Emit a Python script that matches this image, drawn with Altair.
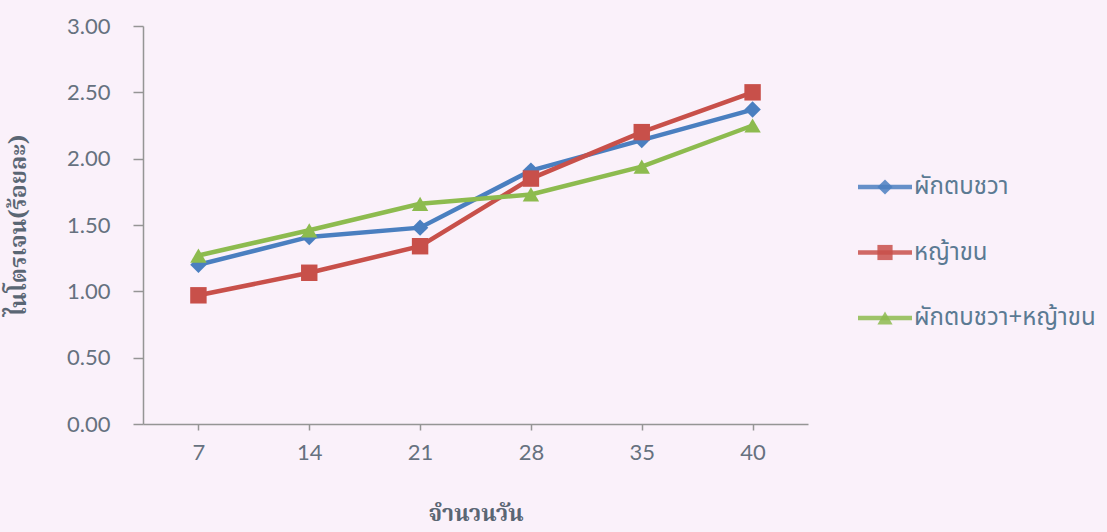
import altair as alt
import pandas as pd

# Sampling days (x categories)
days = ["7", "14", "21", "28", "35", "40"]

# Treatments
series = ["ผักตบชวา", "หญ้าขน", "ผักตบชวา+หญ้าขน"]

# Nitrogen (%) per treatment, one value per sampling day
water_hyacinth = [1.20, 1.41, 1.48, 1.91, 2.14, 2.37]
para_grass = [0.97, 1.14, 1.34, 1.85, 2.20, 2.50]
mixed = [1.27, 1.46, 1.66, 1.73, 1.94, 2.25]

y_ticks = [0.0, 0.5, 1.0, 1.5, 2.0, 2.5, 3.0]

colors = ["#4a7fc0", "#c8504a", "#8dbb4f"]
shapes = ["diamond", "square", "triangle-up"]

LABEL_FONT = "Lato, 'Noto Sans', sans-serif"
THAI_FONT = "'Noto Sans Thai', 'Noto Sans', sans-serif"
TITLE_FONT = "'Noto Serif Thai', 'Noto Sans Thai', 'Noto Sans', sans-serif"
TEXT = "#66717f"
AXIS = "#959595"

rows = []
for name, vals in zip(series, [water_hyacinth, para_grass, mixed]):
    for d, v in zip(days, vals):
        rows.append({"day": d, "series": name, "value": v})
df = pd.DataFrame(rows)

color_scale = alt.Scale(domain=series, range=colors)
shape_scale = alt.Scale(domain=series, range=shapes)

x_enc = alt.X(
    "day:N",
    sort=days,
    scale=alt.Scale(type="point", padding=0.5),
    axis=alt.Axis(
        title="จำนวนวัน",
        labelAngle=0,
        tickSize=6,
        labelPadding=12,
        titlePadding=39,
        titleFontWeight="bold",
    ),
)
y_enc = alt.Y(
    "value:Q",
    scale=alt.Scale(domain=[0, 3], nice=False),
    axis=alt.Axis(
        title="ไนโตรเจน(ร้อยละ)",
        values=y_ticks,
        format=".2f",
        tickSize=10,
        labelPadding=23,
        titlePadding=36,
        grid=False,
        titleFontWeight="bold",
    ),
)

base = alt.Chart(df).encode(
    x=x_enc,
    y=y_enc,
    color=alt.Color("series:N", scale=color_scale, legend=None),
)

lines = base.mark_line(strokeWidth=4.5).encode(detail="series:N")
points = base.mark_point(filled=True, opacity=1, size=270).encode(
    shape=alt.Shape("series:N", scale=shape_scale, legend=None)
)

# Legend drawn beside the plot: line swatch, marker and label per treatment
leg_df = pd.DataFrame({"series": series})
leg_y = alt.Y(
    "series:N",
    sort=series,
    scale=alt.Scale(type="point", domain=series, range=[161, 292], padding=0),
    axis=None,
)
leg_color = alt.Color("series:N", scale=color_scale, legend=None)
leg_base = alt.Chart(leg_df)
leg_rule = leg_base.mark_rule(strokeWidth=4.5, opacity=0.85).encode(
    y=leg_y, color=leg_color, x=alt.value(715), x2=alt.value(769)
)
leg_point = leg_base.mark_point(filled=True, opacity=0.85, size=230).encode(
    y=leg_y,
    color=leg_color,
    x=alt.value(742),
    shape=alt.Shape("series:N", scale=shape_scale, legend=None),
)
leg_text = leg_base.mark_text(
    align="left", baseline="middle", fontSize=24, font=THAI_FONT, color="#5b7a93"
).encode(y=leg_y, x=alt.value(771), text="series:N")

main = alt.layer(lines, points)
legend = alt.layer(leg_rule, leg_point, leg_text)

chart = (
    alt.layer(main, legend)
    .resolve_scale(y="independent")
    .properties(
        width=665,
        height=398,
        background="#faf1fa",
        autosize=alt.AutoSizeParams(type="none"),
        padding={"left": 143, "top": 26, "right": 299, "bottom": 108},
    )
    .configure_view(stroke=None)
    .configure_axis(
        domainColor=AXIS,
        tickColor=AXIS,
        domainWidth=1.5,
        tickWidth=1.5,
        labelColor=TEXT,
        titleColor="#5a6674",
        labelFont=LABEL_FONT,
        titleFont=TITLE_FONT,
        labelFontSize=22,
        titleFontSize=23,
    )
)

chart.save("out.html", embed_options={"renderer": "svg", "actions": False})
